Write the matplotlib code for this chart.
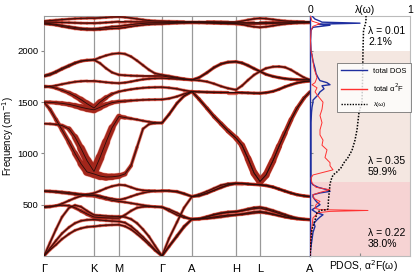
import numpy as np
import matplotlib
matplotlib.use("Agg")
import matplotlib.pyplot as plt
from matplotlib.collections import LineCollection

plt.rcParams['font.family'] = ['Liberation Sans', 'DejaVu Sans']

# k-path sampling (same grid for every branch)
kpts = [0, 6, 12, 18, 25, 31, 37, 43, 50, 56, 62, 68, 75, 81, 87, 93, 99, 105, 111, 118,
        125, 133, 140, 148, 155, 163, 170, 177, 184, 192, 198, 204, 210, 216,
        222, 229, 235, 241, 247, 253, 260, 266]
sym_pos = [0, 50, 75, 118, 148, 192, 216, 266]
sym_lab = ['Γ', 'K', 'M', 'Γ', 'A', 'H', 'L', 'A']

# phonon branches (cm^-1)
t1 = [2290, 2295, 2300, 2305, 2310, 2314, 2317, 2318, 2318, 2322, 2326, 2330, 2332,
      2328, 2320, 2312, 2303, 2296, 2292, 2290, 2288, 2286, 2285, 2285,
      2285, 2285, 2284, 2283, 2282, 2282, 2290, 2302, 2312, 2318,
      2314, 2306, 2298, 2292, 2288, 2286, 2285, 2285]
t2 = [2280, 2280, 2279, 2277, 2275, 2273, 2271, 2270, 2270, 2272, 2276, 2280, 2285,
      2285, 2284, 2283, 2282, 2281, 2280, 2280, 2280, 2280, 2280, 2280,
      2280, 2279, 2278, 2277, 2276, 2275, 2275, 2275, 2276, 2276,
      2277, 2278, 2279, 2280, 2280, 2280, 2280, 2280]
t3 = [2270, 2266, 2258, 2248, 2237, 2228, 2220, 2216, 2215, 2220, 2228, 2236, 2240,
      2248, 2256, 2263, 2268, 2271, 2272, 2272, 2274, 2276, 2277, 2278,
      2277, 2275, 2273, 2270, 2268, 2266, 2258, 2245, 2235, 2230,
      2235, 2245, 2255, 2262, 2268, 2272, 2275, 2276]
t4 = [2262, 2258, 2250, 2238, 2226, 2216, 2210, 2206, 2205, 2208, 2213, 2218, 2220,
      2228, 2238, 2246, 2253, 2258, 2261, 2262, 2266, 2270, 2272, 2274,
      2273, 2271, 2269, 2267, 2265, 2263, 2263, 2263, 2264, 2265,
      2266, 2268, 2270, 2271, 2272, 2273, 2274, 2275]
g1 = [1760, 1775, 1800, 1830, 1860, 1885, 1902, 1910, 1912, 1935, 1955, 1970, 1977,
      1970, 1945, 1905, 1860, 1815, 1780, 1766, 1755, 1740, 1728, 1717,
      1740, 1790, 1840, 1875, 1892, 1896, 1885, 1860, 1830, 1800,
      1770, 1750, 1738, 1728, 1722, 1719, 1717, 1717]
g2 = [1750, 1765, 1790, 1820, 1850, 1878, 1898, 1908, 1912, 1880, 1830, 1790, 1766,
      1762, 1758, 1756, 1755, 1755, 1755, 1756, 1745, 1735, 1725, 1717,
      1712, 1700, 1680, 1655, 1635, 1620, 1660, 1715, 1765, 1800,
      1830, 1845, 1847, 1840, 1815, 1780, 1740, 1717]
g3 = [1646, 1652, 1662, 1675, 1688, 1698, 1704, 1707, 1707, 1700, 1694, 1688, 1685,
      1690, 1700, 1712, 1722, 1728, 1732, 1734, 1730, 1726, 1721, 1717,
      1738, 1785, 1835, 1870, 1888, 1892, 1880, 1855, 1825, 1800,
      1772, 1752, 1740, 1730, 1724, 1720, 1718, 1717]
b1 = [1500, 1498, 1494, 1488, 1478, 1465, 1450, 1437, 1425, 1450, 1475, 1495, 1506,
      1510, 1515, 1519, 1522, 1524, 1525, 1526, 1535, 1555, 1580, 1603,
      1530, 1440, 1360, 1290, 1220, 1150, 1080, 950, 810, 727,
      790, 930, 1070, 1200, 1330, 1440, 1540, 1600]
b2 = [1658, 1650, 1636, 1616, 1590, 1560, 1525, 1485, 1443, 1500, 1545, 1580, 1603,
      1615, 1625, 1633, 1639, 1643, 1645, 1646, 1640, 1630, 1615, 1603,
      1600, 1598, 1596, 1595, 1594, 1594, 1592, 1590, 1588, 1587,
      1592, 1605, 1625, 1650, 1670, 1688, 1700, 1705]
b3 = [1290, 1288, 1283, 1272, 1240, 1160, 1050, 930, 824, 960, 1110, 1250, 1360,
      1350, 1340, 1330, 1318, 1308, 1300, 1297, 1380, 1490, 1560, 1603,
      1600, 1598, 1596, 1595, 1594, 1594, 1592, 1590, 1588, 1587,
      1592, 1605, 1625, 1650, 1670, 1688, 1700, 1705]
b4 = [1500, 1430, 1330, 1230, 1110, 1000, 900, 820, 800, 780, 770, 772, 780,
      800, 880, 1060, 1240, 1285, 1295, 1297, 1380, 1490, 1560, 1603,
      1530, 1440, 1360, 1290, 1220, 1150, 1080, 950, 810, 727,
      790, 930, 1070, 1200, 1330, 1440, 1540, 1600]
l1 = [0, 60, 110, 165, 215, 250, 270, 283, 288, 295, 300, 303, 305,
      290, 260, 215, 165, 110, 55, 0, 90, 190, 280, 360,
      362, 370, 380, 390, 398, 402, 410, 420, 430, 434,
      425, 410, 395, 380, 370, 362, 358, 355]
l2 = [0, 75, 150, 220, 280, 320, 343, 352, 355, 350, 345, 340, 337,
      325, 290, 240, 185, 125, 60, 0, 95, 200, 290, 360,
      360, 365, 372, 380, 390, 400, 405, 412, 420, 425,
      418, 405, 392, 380, 370, 362, 356, 353]
l3 = [0, 130, 260, 380, 470, 495, 480, 440, 400, 395, 390, 387, 386,
      380, 360, 320, 260, 190, 100, 0, 170, 330, 470, 580,
      600, 630, 660, 690, 705, 711, 708, 703, 698, 694,
      690, 675, 655, 635, 615, 598, 585, 580]
l4 = [473, 478, 490, 510, 540, 565, 585, 600, 613, 635, 660, 680, 694,
      690, 670, 650, 640, 637, 636, 636, 635, 630, 610, 580,
      590, 615, 640, 665, 690, 705, 705, 700, 697, 694,
      685, 670, 650, 630, 612, 597, 586, 580]
l5 = [483, 485, 490, 495, 490, 470, 440, 410, 380, 375, 372, 370, 370,
      400, 440, 470, 480, 482, 480, 477, 440, 400, 375, 360,
      365, 385, 405, 420, 430, 434, 445, 460, 472, 477,
      465, 445, 425, 405, 385, 370, 360, 355]
l6 = [629, 627, 622, 615, 608, 602, 597, 593, 590, 575, 558, 543, 532,
      525, 515, 505, 495, 487, 480, 477, 455, 420, 385, 355,
      360, 380, 400, 415, 425, 430, 440, 452, 462, 467,
      455, 435, 415, 395, 378, 365, 357, 353]
l7 = [636, 634, 630, 625, 618, 610, 602, 596, 595, 585, 570, 558, 548,
      560, 580, 600, 615, 627, 633, 636, 635, 625, 605, 580,
      585, 610, 640, 670, 695, 708, 706, 702, 698, 694,
      688, 672, 652, 632, 614, 598, 587, 580]

# electron-phonon coupling weight per point (fat band size)
w_b1 = [0.2, 0.2, 0.25, 0.3, 0.35, 0.45, 0.55, 0.65, 0.7, 0.55, 0.4, 0.3, 0.2,
        0.15, 0.1, 0.05, 0.05, 0.05, 0.05, 0.05, 0.05, 0.05, 0.05, 0.1,
        0.15, 0.15, 0.2, 0.25, 0.3, 0.35, 0.45, 0.55, 0.65, 0.7,
        0.65, 0.55, 0.45, 0.35, 0.25, 0.2, 0.15, 0.1]
w_b2 = [0.05, 0.1, 0.15, 0.2, 0.3, 0.4, 0.5, 0.6, 0.7, 0.5, 0.3, 0.15, 0.05,
        0.05, 0.05, 0.05, 0.05, 0.05, 0.05, 0.05, 0.05, 0.05, 0.05, 0.05,
        0.05, 0.05, 0.05, 0.05, 0.05, 0.05, 0.05, 0.05, 0.05, 0.05,
        0.05, 0.05, 0.05, 0.05, 0.05, 0.05, 0.05, 0.05]
w_b3 = [0.05, 0.05, 0.1, 0.15, 0.3, 0.5, 0.7, 0.9, 1.0, 0.9, 0.8, 0.6, 0.4,
        0.2, 0.1, 0.05, 0.05, 0.05, 0.05, 0.05, 0.05, 0.05, 0.05, 0.05,
        0.05, 0.05, 0.05, 0.05, 0.05, 0.05, 0.05, 0.05, 0.05, 0.05,
        0.05, 0.05, 0.05, 0.05, 0.05, 0.05, 0.05, 0.05]
w_b4 = [0.15, 0.2, 0.25, 0.3, 0.35, 0.45, 0.6, 0.8, 0.9, 0.8, 0.7, 0.6, 0.5,
        0.3, 0.15, 0.1, 0.05, 0.05, 0.05, 0.05, 0.05, 0.05, 0.05, 0.1,
        0.15, 0.15, 0.2, 0.25, 0.3, 0.35, 0.45, 0.55, 0.65, 0.7,
        0.65, 0.55, 0.45, 0.35, 0.25, 0.2, 0.15, 0.1]
w_low = [0.05, 0.05, 0.05, 0.05, 0.08, 0.12, 0.18, 0.25, 0.3, 0.25, 0.18, 0.12, 0.08,
         0.05, 0.05, 0.05, 0.05, 0.05, 0.05, 0.05, 0.05, 0.05, 0.05, 0.05,
         0.05, 0.05, 0.05, 0.05, 0.05, 0.05, 0.05, 0.05, 0.05, 0.05,
         0.05, 0.05, 0.05, 0.05, 0.05, 0.05, 0.05, 0.05]
w_thin = [0.05] * len(kpts)

branches = [(t1, w_thin), (t2, w_thin), (t3, w_thin), (t4, w_thin),
            (g1, w_thin), (g2, w_thin), (g3, w_thin),
            (b1, w_b1), (b2, w_b2), (b3, w_b3), (b4, w_b4),
            (l1, w_thin), (l2, w_thin), (l3, w_thin), (l4, w_thin),
            (l5, w_low), (l6, w_low), (l7, w_thin)]

# total DOS
dos_w = [0, 60, 160, 230, 288, 320, 353, 380, 402, 425, 451, 475, 500, 525, 548, 575, 597, 615,
         630, 646, 670, 694, 720, 760, 800, 900, 1000, 1100, 1200, 1300, 1400, 1450, 1500, 1520,
         1540, 1570, 1600, 1630, 1660, 1670, 1690, 1710, 1740, 1780, 1830, 1900, 1960, 2000,
         2100, 2200, 2230, 2250, 2260, 2270, 2280, 2290, 2310, 2340]
dos = [0, 0.005, 0.02, 0.03, 0.05, 0.04, 0.07, 0.1, 0.13, 0.06, 0.02, 0.06, 0.1, 0.07, 0.05, 0.03,
       0.03, 0.1, 0.2, 0.17, 0.08, 0.03, 0.01, 0.01, 0.01, 0.01, 0.01, 0.01, 0.01, 0.01, 0.015,
       0.02, 0.03, 0.03, 0.05, 0.08, 0.1, 0.14, 0.12, 0.2, 0.17, 0.1, 0.08, 0.06, 0.05, 0.03,
       0.02, 0.01, 0.005, 0.01, 0.03, 0.2, 0.08, 0.5, 0.12, 0.1, 0.05, 0.02]
# Eliashberg function
a2f_w = [0, 160, 288, 372, 400, 421, 435, 444, 452, 465, 500, 532, 560, 597, 620, 646, 670, 711,
         760, 790, 840, 880, 910, 960, 1035, 1080, 1130, 1180, 1230, 1300, 1370, 1430, 1500,
         1560, 1600, 1640, 1670, 1690, 1740, 1830, 1900, 1960, 2000, 2100, 2200, 2240, 2265,
         2290, 2340]
a2f = [0, 0.005, 0.02, 0.03, 0.06, 0.07, 0.2, 0.58, 0.1, 0.05, 0.06, 0.1, 0.04, 0.03, 0.1, 0.2,
       0.06, 0.02, 0.01, 0.03, 0.23, 0.2, 0.2, 0.15, 0.17, 0.12, 0.13, 0.1, 0.1, 0.12, 0.1, 0.12,
       0.13, 0.08, 0.05, 0.07, 0.02, 0.05, 0.07, 0.04, 0.03, 0.02, 0.01, 0.005, 0.01, 0.03, 0.1,
       0.02, 0.005]
# cumulative lambda(omega)
lam_w = [0, 60, 160, 260, 290, 350, 420, 445, 451, 460, 550, 650, 700, 740, 790, 820, 860, 910,
         960, 1030, 1130, 1230, 1400, 1500, 1700, 2000, 2200, 2250, 2290, 2340]
lam = [0, 0.005, 0.01, 0.02, 0.03, 0.05, 0.07, 0.1, 0.17, 0.18, 0.185, 0.195, 0.2, 0.21, 0.23,
       0.27, 0.31, 0.34, 0.38, 0.42, 0.45, 0.47, 0.49, 0.52, 0.525, 0.53, 0.535, 0.55, 0.56, 0.56]

regions = [(0, 720), (720, 2000)]
region_cols = ['#f6d3d3', '#f4e7e1']
region_txt = [('λ = 0.22\n38.0%', 168), ('λ = 0.35\n59.9%', 870), ('λ = 0.01\n2.1%', 2140)]

fig = plt.figure(figsize=(4.15, 2.79), dpi=100)
ax = fig.add_axes([44/415, 23/279, 266/415, 240/279])
ax2 = fig.add_axes([310/415, 23/279, 100/415, 240/279])

k = np.array(kpts, dtype=float)
fat = []
for f, w in branches:
    pts = np.column_stack([k, f])
    segs = np.stack([pts[:-1], pts[1:]], axis=1)
    wm = 0.5 * (np.array(w[:-1]) + np.array(w[1:]))
    fat.append((segs, 1.3 + 5.0 * wm))
for segs, lw in fat:
    ax.add_collection(LineCollection(segs, linewidths=lw + 0.8, colors='#e0503c',
                                     alpha=0.5, capstyle='round', zorder=2))
for segs, lw in fat:
    ax.add_collection(LineCollection(segs, linewidths=lw, colors='#a3261b',
                                     capstyle='round', zorder=3))
for f, w in branches:
    ax.plot(kpts, f, color='#2a0d0a', lw=0.6, zorder=4)

for x in sym_pos[1:-1]:
    ax.axvline(x, color='#999999', lw=0.9, zorder=1)
ax.set_xlim(0, 266)
ax.set_ylim(0, 2340)
ax.set_xticks(sym_pos)
ax.set_xticklabels(sym_lab, fontsize=8)
ax.set_yticks([500, 1000, 1500, 2000])
ax.tick_params(axis='y', labelsize=6.8, length=2.5, pad=1.5, color='#888888')
ax.tick_params(axis='x', length=0, pad=6)
ax.set_ylabel('Frequency (cm$^{-1}$)', fontsize=7)
ax.yaxis.set_label_coords(-0.107, 0.5)
for s in ax.spines.values():
    s.set_color('#999999')

# right panel
for (lo, hi), c in zip(regions, region_cols):
    ax2.axhspan(lo, hi, color=c, lw=0, zorder=0)
ax2.plot(dos, dos_w, color='#1f2fa0', lw=1.0, label='total DOS', zorder=3)
ax2.plot(a2f, a2f_w, color='#ff3030', lw=0.7, label='total α$^2$F', zorder=3)
ax2.plot(lam, lam_w, color='black', lw=1.1, ls=(0, (1, 1)), label='λ(ω)', zorder=4)
for txt, y in region_txt:
    ax2.text(0.58, y, txt, fontsize=7.5, va='center', ha='left', linespacing=1.1)
ax2.set_xlim(0, 1)
ax2.set_ylim(0, 2340)
ax2.set_yticks([500, 1000, 1500, 2000])
ax2.set_yticklabels([])
ax2.tick_params(axis='y', direction='in', length=2, color='#888888')
ax2.set_xticks([0.5])
ax2.set_xticklabels([])
ax2.tick_params(axis='x', direction='in', length=2, color='#888888')
ax2.text(0.53, -0.04, 'PDOS, α$^2$F(ω)', transform=ax2.transAxes, fontsize=7.5,
         ha='center', va='center')
for nm, s in ax2.spines.items():
    s.set_color('#bbbbbb')
ax2.spines['left'].set_color('#1f2fa0')
ax2.spines['left'].set_linewidth(1.0)
axt = ax2.twiny()
axt.set_xlim(0, 1)
axt.set_xticks([0, 1])
axt.tick_params(axis='x', length=0, labelsize=7.5, pad=1)
axt.text(0.55, 1.005, 'λ(ω)', transform=axt.transAxes, fontsize=7.5, ha='center', va='bottom')
axt.spines[:].set_visible(False)

leg = ax2.legend(loc='upper left', bbox_to_anchor=(333/415, 1 - 59/279),
                 bbox_transform=fig.transFigure, fontsize=5.5, handlelength=3.4,
                 frameon=True, fancybox=False, borderpad=0.6, labelspacing=0.9)
leg.get_frame().set_edgecolor('#555555')
leg.get_frame().set_linewidth(0.6)
leg.get_texts()[2].set_fontsize(4.5)
for ln in leg.get_lines():
    ln.set_linewidth(1.0)

fig.savefig('out.png', dpi=100)
